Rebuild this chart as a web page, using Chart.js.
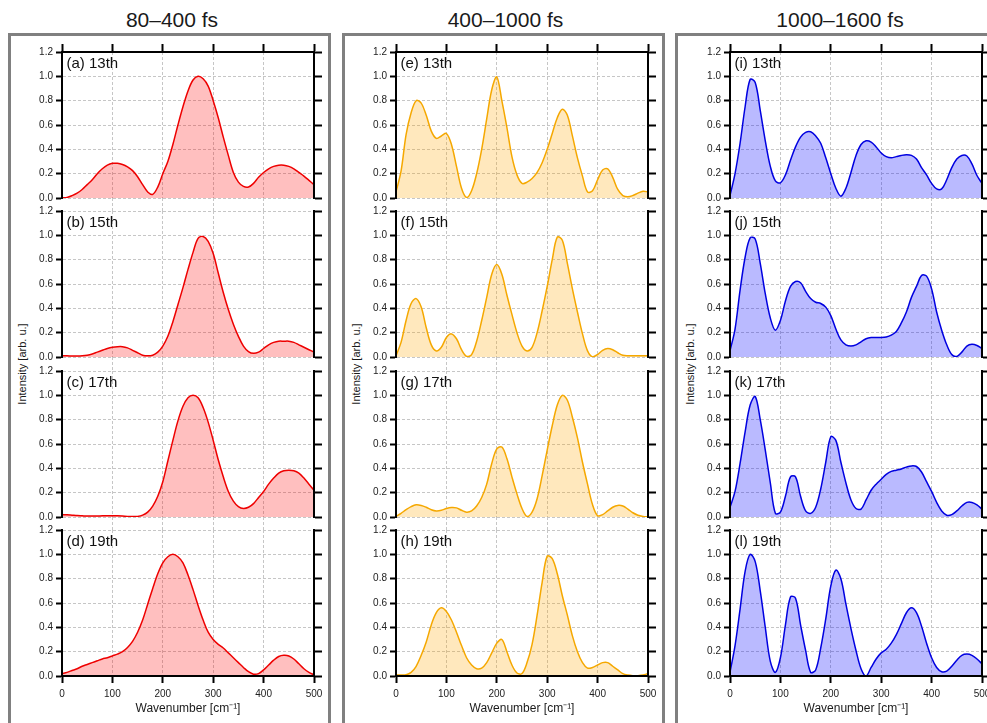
<!DOCTYPE html>
<html><head><meta charset="utf-8">
<script src="https://cdn.jsdelivr.net/npm/chart.js@4.4.1/dist/chart.umd.min.js"></script>
<style>
html,body{margin:0;padding:0;background:#fff;overflow:hidden;width:987px;height:723px;}
body{position:relative;font-family:"Liberation Sans",Arial,Helvetica,sans-serif;}
.frame{position:absolute;top:33px;width:323px;height:760px;border:3px solid #808080;box-sizing:border-box;}
.coltitle{position:absolute;top:9px;font-size:21px;line-height:21px;color:#1a1a1a;transform:translateX(-50%);white-space:nowrap;}
.ytitle{position:absolute;font-size:11px;line-height:13px;color:#1a1a1a;white-space:nowrap;transform:translate(-50%,-50%) rotate(-90deg);}
canvas{position:absolute;}
</style></head><body>
<script>
// ---------------- data ----------------
const WAVENUMBER = [0,10,20,30,40,50,60,70,80,90,100,110,120,130,140,150,160,170,180,190,200,210,220,230,240,250,260,270,280,290,300,310,320,330,340,350,360,370,380,390,400,410,420,430,440,450,460,470,480,490,500];
const X_TICK_VALUES = [0,100,200,300,400,500];
const Y_TICK_VALUES = [0.0,0.2,0.4,0.6,0.8,1.0,1.2];
const COLUMN_TITLES = ['80–400 fs','400–1000 fs','1000–1600 fs'];
const PANEL_LABELS = [
  ['(a) 13th','(b) 15th','(c) 17th','(d) 19th'],
  ['(e) 13th','(f) 15th','(g) 17th','(h) 19th'],
  ['(i) 13th','(j) 15th','(k) 17th','(l) 19th']
];
const X_TITLE = 'Wavenumber [cm⁻¹]';
const Y_TITLE = 'Intensity [arb. u.]';

// 80–400 fs
const a13 = [0.00,0.005,0.02,0.04,0.07,0.11,0.15,0.20,0.24,0.27,0.285,0.285,0.275,0.255,0.225,0.175,0.11,0.05,0.03,0.09,0.20,0.30,0.44,0.60,0.75,0.88,0.97,1.00,0.98,0.92,0.80,0.66,0.50,0.35,0.21,0.13,0.095,0.09,0.12,0.17,0.21,0.24,0.26,0.27,0.27,0.26,0.24,0.21,0.18,0.145,0.11];
const b15 = [0.01,0.01,0.008,0.008,0.01,0.015,0.025,0.04,0.055,0.07,0.08,0.085,0.085,0.075,0.055,0.035,0.015,0.01,0.015,0.04,0.09,0.17,0.29,0.43,0.57,0.72,0.86,0.975,0.99,0.95,0.85,0.69,0.53,0.39,0.27,0.17,0.09,0.045,0.03,0.04,0.07,0.10,0.12,0.13,0.13,0.13,0.12,0.10,0.08,0.06,0.04];
const c17 = [0.02,0.018,0.015,0.012,0.01,0.008,0.008,0.008,0.01,0.01,0.01,0.01,0.008,0.005,0.004,0.005,0.015,0.04,0.09,0.17,0.29,0.46,0.63,0.79,0.91,0.98,1.00,0.98,0.90,0.78,0.63,0.47,0.33,0.21,0.13,0.085,0.07,0.08,0.11,0.16,0.21,0.27,0.32,0.36,0.38,0.385,0.38,0.36,0.32,0.27,0.22];
const d19 = [0.02,0.03,0.045,0.06,0.08,0.095,0.11,0.125,0.14,0.15,0.165,0.18,0.20,0.235,0.285,0.36,0.46,0.59,0.72,0.84,0.93,0.98,1.00,0.98,0.93,0.83,0.71,0.58,0.46,0.36,0.30,0.26,0.23,0.19,0.15,0.11,0.07,0.035,0.015,0.02,0.05,0.09,0.13,0.16,0.17,0.165,0.14,0.10,0.06,0.03,0.01];
// 400–1000 fs
const e13 = [0.05,0.22,0.52,0.70,0.80,0.78,0.68,0.55,0.49,0.51,0.53,0.44,0.26,0.08,0.005,0.06,0.20,0.40,0.65,0.89,0.995,0.80,0.58,0.34,0.19,0.12,0.13,0.16,0.21,0.29,0.40,0.53,0.66,0.73,0.68,0.51,0.33,0.18,0.05,0.06,0.15,0.23,0.24,0.17,0.07,0.02,0.01,0.02,0.04,0.055,0.05];
const f15 = [0.01,0.12,0.30,0.44,0.48,0.41,0.24,0.10,0.05,0.08,0.16,0.19,0.15,0.06,0.005,0.02,0.13,0.30,0.49,0.68,0.76,0.68,0.51,0.35,0.20,0.09,0.05,0.08,0.20,0.38,0.58,0.80,0.985,0.96,0.77,0.56,0.37,0.19,0.05,0.0,0.02,0.055,0.07,0.06,0.035,0.015,0.01,0.01,0.01,0.01,0.01];
const g17 = [0.005,0.03,0.06,0.085,0.10,0.095,0.08,0.06,0.05,0.055,0.07,0.078,0.075,0.055,0.04,0.05,0.09,0.16,0.27,0.44,0.56,0.575,0.48,0.33,0.19,0.07,0.005,0.04,0.15,0.34,0.55,0.75,0.92,1.00,0.96,0.82,0.65,0.45,0.27,0.10,0.01,0.02,0.05,0.08,0.095,0.09,0.065,0.035,0.015,0.005,0.0];
const h19 = [0.01,0.008,0.01,0.03,0.08,0.17,0.28,0.42,0.52,0.56,0.53,0.46,0.36,0.25,0.15,0.09,0.06,0.065,0.11,0.19,0.27,0.30,0.20,0.09,0.025,0.02,0.11,0.26,0.50,0.77,0.985,0.965,0.84,0.66,0.50,0.33,0.20,0.11,0.065,0.07,0.09,0.11,0.11,0.08,0.05,0.02,0.008,0.003,0.003,0.008,0.02];
// 1000–1600 fs
const i13 = [0.02,0.20,0.45,0.75,0.975,0.95,0.72,0.47,0.26,0.14,0.125,0.19,0.31,0.42,0.50,0.54,0.545,0.51,0.45,0.33,0.20,0.08,0.015,0.08,0.21,0.35,0.44,0.47,0.46,0.42,0.37,0.34,0.33,0.34,0.35,0.355,0.35,0.32,0.25,0.19,0.12,0.075,0.075,0.15,0.25,0.32,0.35,0.345,0.28,0.185,0.12];
const j15 = [0.05,0.23,0.55,0.82,0.98,0.97,0.77,0.52,0.32,0.22,0.30,0.46,0.58,0.62,0.61,0.54,0.48,0.45,0.44,0.41,0.34,0.23,0.14,0.10,0.09,0.10,0.125,0.15,0.16,0.16,0.16,0.165,0.18,0.21,0.28,0.37,0.49,0.58,0.67,0.665,0.56,0.37,0.22,0.10,0.02,0.005,0.04,0.09,0.105,0.095,0.07];
const k17 = [0.08,0.21,0.44,0.70,0.92,0.99,0.80,0.55,0.28,0.03,0.04,0.17,0.33,0.33,0.17,0.05,0.03,0.08,0.23,0.45,0.66,0.63,0.45,0.28,0.14,0.07,0.065,0.14,0.22,0.27,0.31,0.35,0.375,0.385,0.395,0.41,0.42,0.415,0.37,0.29,0.21,0.12,0.05,0.015,0.02,0.05,0.09,0.12,0.12,0.10,0.065];
const l19 = [0.03,0.25,0.55,0.86,1.0,0.94,0.70,0.40,0.12,0.03,0.15,0.42,0.65,0.64,0.42,0.21,0.03,0.05,0.23,0.47,0.74,0.87,0.80,0.59,0.39,0.21,0.06,0.0,0.07,0.14,0.19,0.22,0.27,0.34,0.43,0.52,0.56,0.52,0.41,0.27,0.15,0.07,0.035,0.04,0.08,0.13,0.17,0.18,0.17,0.14,0.10];

const SERIES = [[a13,b15,c17,d19],[e13,f15,g17,h19],[i13,j15,k17,l19]];

// ---------------- style / layout ----------------
const LINE_COLORS = ['#ee0000','#f5a800','#0000e0'];
const FILL_COLORS = ['rgba(255,0,0,0.25)','rgba(255,165,0,0.26)','rgba(0,0,255,0.27)'];
const GRID_COLOR = '#c6c6c6';
const AXIS_COLOR = '#000';
const TEXT_COLOR = '#222';
const COL_LEFT = [62, 396, 730];
const ROW_TOP = [52, 211, 371, 530];
const PLOT_W = 252, PLOT_H = 146;
const PAD_L = 50, PAD_R = 20, PAD_T = 20, PAD_B_INNER = 20, PAD_B_LAST = 44;
const FRAME_LEFT = [8, 342, 675];
const TITLE_CX = [172, 505.5, 840];

Chart.defaults.font.family = '"Liberation Sans", Arial, Helvetica, sans-serif';
Chart.defaults.color = TEXT_COLOR;

// frames and titles
FRAME_LEFT.forEach((l, c) => {
  const f = document.createElement('div'); f.className = 'frame'; f.style.left = l + 'px';
  document.body.appendChild(f);
  const t = document.createElement('div'); t.className = 'coltitle'; t.style.left = TITLE_CX[c] + 'px';
  t.textContent = COLUMN_TITLES[c]; document.body.appendChild(t);
  const y = document.createElement('div'); y.className = 'ytitle';
  y.style.left = (COL_LEFT[c] - 40) + 'px';
  y.style.top = ((ROW_TOP[0] + ROW_TOP[3] + PLOT_H) / 2) + 'px';
  y.textContent = Y_TITLE; document.body.appendChild(y);
});

const alignPx = (p) => Math.round(p - 0.5) + 0.5;

const decorPlugin = {
  id: 'panelDecor',
  beforeDatasetsDraw(chart, args, opts) {
    if (!opts.gapBelow) return;
    const {ctx, chartArea} = chart;
    const xs = chart.scales.x;
    ctx.save();
    ctx.strokeStyle = GRID_COLOR; ctx.lineWidth = 1; ctx.setLineDash([3,2]);
    X_TICK_VALUES.forEach(v => {
      if (v <= xs.min || v >= xs.max) return;
      const px = alignPx(xs.getPixelForValue(v));
      ctx.beginPath(); ctx.moveTo(px, chartArea.bottom); ctx.lineTo(px, chartArea.bottom + opts.gapBelow); ctx.stroke();
    });
    ctx.restore();
  },
  afterDatasetsDraw(chart, args, opts) {
    const {ctx, chartArea} = chart;
    ctx.save();
    ctx.font = '15px "Liberation Sans", Arial, Helvetica, sans-serif';
    ctx.fillStyle = '#111';
    ctx.textBaseline = 'alphabetic';
    ctx.textAlign = 'left';
    ctx.fillText(opts.label, chartArea.left + 4.5, chartArea.top + 15.5);
    ctx.restore();
  }
};

function setTicks(values) { return (s) => { s.ticks = values.map(v => ({value: v})); }; }

function makeScales(isTop, isBottom) {
  const scales = {
    x: {
      type: 'linear', min: 0, max: 500, position: 'bottom',
      afterBuildTicks: setTicks(X_TICK_VALUES),
      afterFit: (s) => { s.height = isBottom ? PAD_B_LAST : PAD_B_INNER; s.paddingLeft = 0; s.paddingRight = 0; },
      grid: { color: GRID_COLOR, lineWidth: 1, drawTicks: isBottom, tickLength: 7, tickColor: AXIS_COLOR, tickWidth: 2 },
      border: { display: isBottom, color: AXIS_COLOR, width: 2, dash: [3,2], z: 1 },
      ticks: { display: isBottom, padding: 5, color: TEXT_COLOR, font: {size: 10}, maxRotation: 0, autoSkip: false,
               callback: (v) => String(v) },
      title: { display: isBottom, text: X_TITLE, color: '#1a1a1a', font: {size: 12} }
    },
    y: {
      type: 'linear', min: 0, max: 1.2, position: 'left',
      afterBuildTicks: setTicks(Y_TICK_VALUES),
      afterFit: (s) => { s.width = PAD_L; s.paddingTop = 0; s.paddingBottom = 0; },
      grid: { color: GRID_COLOR, lineWidth: 1, drawTicks: true, tickLength: 6, tickColor: AXIS_COLOR, tickWidth: 2 },
      border: { display: true, color: AXIS_COLOR, width: 2, dash: [3,2], z: 1 },
      ticks: { padding: 3, color: TEXT_COLOR, font: {size: 10}, autoSkip: false, callback: (v) => Number(v).toFixed(1) }
    },
    y2: {
      type: 'linear', min: 0, max: 1.2, position: 'right',
      afterBuildTicks: setTicks(Y_TICK_VALUES),
      afterFit: (s) => { s.width = PAD_R; s.paddingTop = 0; s.paddingBottom = 0; },
      grid: { drawOnChartArea: false, drawTicks: true, tickLength: 8, tickColor: AXIS_COLOR, tickWidth: 2 },
      border: { display: true, color: AXIS_COLOR, width: 2, z: 1 },
      ticks: { display: false }
    }
  };
  if (isTop) {
    scales.xTop = {
      type: 'linear', min: 0, max: 500, position: 'top',
      afterBuildTicks: setTicks(X_TICK_VALUES),
      afterFit: (s) => { s.height = PAD_T; s.paddingLeft = 0; s.paddingRight = 0; },
      grid: { drawOnChartArea: false, drawTicks: true, tickLength: 8, tickColor: AXIS_COLOR, tickWidth: 2 },
      border: { display: true, color: AXIS_COLOR, width: 2, z: 1 },
      ticks: { display: false }
    };
  }
  return scales;
}

for (let c = 0; c < 3; c++) {
  for (let r = 0; r < 4; r++) {
    const isTop = r === 0, isBottom = r === 3;
    const bottomPad = isBottom ? PAD_B_LAST : PAD_B_INNER;
    const cv = document.createElement('canvas');
    const W = PLOT_W + PAD_L + PAD_R, H = PLOT_H + PAD_T + bottomPad;
    cv.width = W; cv.height = H;
    cv.style.width = W + 'px'; cv.style.height = H + 'px';
    cv.style.left = (COL_LEFT[c] - PAD_L) + 'px';
    cv.style.top = (ROW_TOP[r] - PAD_T) + 'px';
    document.body.appendChild(cv);
    const vals = SERIES[c][r];
    const gapBelow = isBottom ? 0 : ROW_TOP[r + 1] - (ROW_TOP[r] + PLOT_H);
    new Chart(cv, {
      type: 'line',
      data: {
        datasets: [{
          data: WAVENUMBER.map((w, i) => ({x: w, y: vals[i]})),
          borderColor: LINE_COLORS[c],
          backgroundColor: FILL_COLORS[c],
          borderWidth: 1.5,
          fill: 'origin',
          pointRadius: 0,
          tension: 0.35
        }]
      },
      options: {
        responsive: false,
        animation: false,
        devicePixelRatio: 1,
        events: [],
        layout: { autoPadding: false, padding: { left: 0, right: 0, bottom: 0, top: isTop ? 0 : PAD_T } },
        scales: makeScales(isTop, isBottom),
        plugins: {
          legend: { display: false },
          tooltip: { enabled: false },
          panelDecor: { label: PANEL_LABELS[c][r], gapBelow: gapBelow }
        }
      },
      plugins: [decorPlugin]
    });
  }
}
</script>
</body></html>
